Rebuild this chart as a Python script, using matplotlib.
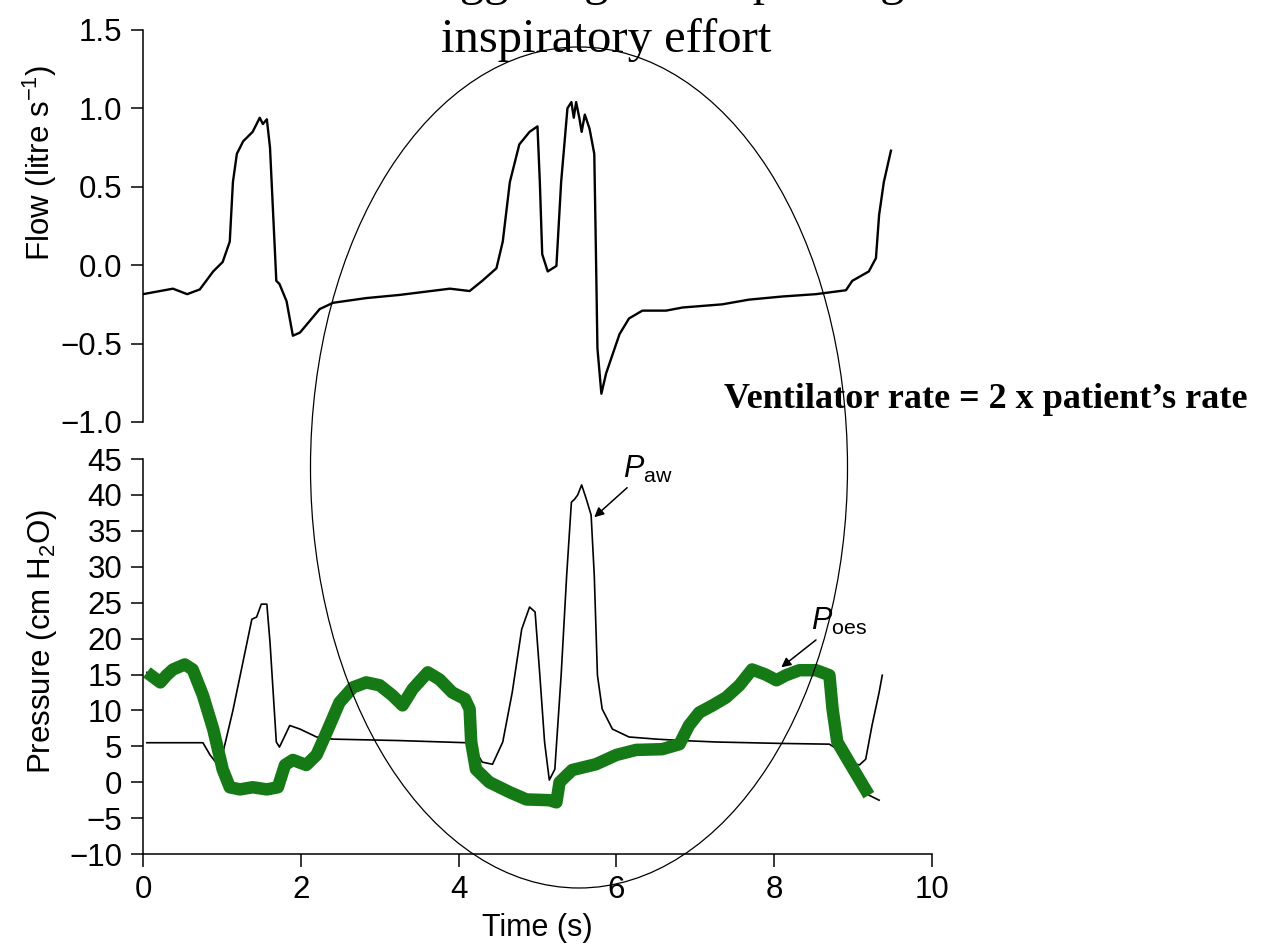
import numpy as np
import matplotlib
matplotlib.use("Agg")
import matplotlib.pyplot as plt
from matplotlib.patches import Ellipse

plt.rcParams["font.family"] = "Liberation Sans"
plt.rcParams["mathtext.fontset"] = "custom"
plt.rcParams["mathtext.rm"] = "Liberation Sans"
plt.rcParams["mathtext.it"] = "Liberation Sans:italic"

# flow trace (s, litre/s)
flow_t = [0.0, 0.38, 0.56, 0.72, 0.89, 1.01, 1.10, 1.14, 1.19, 1.27, 1.39, 1.48, 1.52, 1.57,
          1.61, 1.69, 1.73, 1.82, 1.90, 1.99, 2.24, 2.41, 2.83, 3.25, 3.89, 4.14, 4.30, 4.48,
          4.56, 4.65, 4.77, 4.90, 5.00, 5.03, 5.06, 5.13, 5.24, 5.30, 5.38, 5.43, 5.46, 5.49,
          5.53, 5.56, 5.60, 5.66, 5.72, 5.74, 5.76, 5.81, 5.87, 6.04, 6.16, 6.33, 6.63, 6.84,
          7.34, 7.68, 8.10, 8.53, 8.91, 8.99, 9.20, 9.29, 9.33, 9.39, 9.48]
flow = [-0.185, -0.15, -0.185, -0.155, -0.04, 0.02, 0.15, 0.53, 0.71, 0.79, 0.85, 0.94, 0.90, 0.93,
        0.75, -0.10, -0.12, -0.23, -0.45, -0.43, -0.28, -0.24, -0.21, -0.19, -0.15, -0.165, -0.10, -0.02,
        0.15, 0.53, 0.77, 0.85, 0.885, 0.53, 0.07, -0.04, -0.005, 0.53, 1.0, 1.04, 0.94, 1.04,
        0.94, 0.85, 0.96, 0.87, 0.71, 0.11, -0.53, -0.82, -0.69, -0.44, -0.34, -0.29, -0.29, -0.27,
        -0.25, -0.22, -0.20, -0.185, -0.16, -0.10, -0.04, 0.045, 0.32, 0.53, 0.73]

# airway pressure (cm H2O)
paw_t = [0.05, 0.76, 0.85, 0.97, 1.14, 1.38, 1.44, 1.50, 1.57, 1.61, 1.69, 1.73, 1.80, 1.86,
         1.99, 2.20, 2.41, 3.25, 4.10, 4.20, 4.30, 4.43, 4.56, 4.68, 4.80, 4.90, 4.97, 5.03,
         5.09, 5.15, 5.22, 5.30, 5.37, 5.43, 5.47, 5.51, 5.56, 5.62, 5.68, 5.72, 5.76, 5.82,
         5.95, 6.16, 6.51, 6.84, 7.27, 8.10, 8.70, 8.80, 8.95, 9.08, 9.16, 9.24, 9.33, 9.37]
paw = [5.5, 5.5, 3.8, 2.1, 10.0, 22.7, 23.0, 24.8, 24.8, 19.5, 5.6, 4.9, 6.5, 7.9,
       7.4, 6.3, 6.0, 5.8, 5.5, 4.6, 2.8, 2.5, 5.6, 12.5, 21.3, 24.4, 23.7, 14.9,
       5.6, 0.3, 1.8, 14.9, 28.8, 39.0, 39.4, 40.0, 41.4, 39.4, 37.2, 28.8, 14.9, 10.2,
       7.4, 6.3, 6.0, 5.8, 5.6, 5.4, 5.3, 4.6, 2.8, 2.4, 3.2, 7.9, 12.5, 14.9]

# oesophageal pressure (cm H2O)
poes_t = [0.05, 0.22, 0.30, 0.38, 0.53, 0.63, 0.76, 0.89, 1.01, 1.10, 1.23, 1.39, 1.57, 1.71,
          1.80, 1.90, 2.07, 2.20, 2.33, 2.49, 2.66, 2.83, 3.00, 3.16, 3.29, 3.42, 3.61, 3.76,
          3.92, 4.08, 4.14, 4.16, 4.22, 4.39, 4.65, 4.86, 5.15, 5.24, 5.28, 5.44, 5.74, 6.00,
          6.25, 6.58, 6.80, 6.92, 7.05, 7.22, 7.39, 7.56, 7.72, 7.89, 8.03, 8.15, 8.32, 8.53,
          8.70, 8.74, 8.80, 8.95, 9.20, 9.33]
poes = [15.3, 13.9, 14.9, 15.7, 16.4, 15.7, 12.1, 7.4, 1.8, -0.7, -1.0, -0.7, -1.0, -0.7,
        2.4, 3.1, 2.4, 3.8, 7.0, 11.1, 13.2, 13.9, 13.5, 12.1, 10.7, 13.0, 15.3, 14.3,
        12.5, 11.6, 10.2, 5.6, 1.8, 0.0, -1.4, -2.4, -2.5, -2.8, 0.0, 1.7, 2.5, 3.8,
        4.5, 4.6, 5.3, 7.9, 9.7, 10.7, 11.8, 13.5, 15.7, 15.0, 14.2, 14.9, 15.6, 15.6,
        14.9, 10.2, 5.6, 2.8, -1.8, -2.5]

flow_ticks = [-1.0, -0.5, 0.0, 0.5, 1.0, 1.5]
pres_ticks = list(range(-10, 50, 5))
time_ticks = [0, 2, 4, 6, 8, 10]

fig = plt.figure(figsize=(12.63, 9.44), dpi=100)
ax1 = fig.add_axes([0.1132, 0.5530, 0.6247, 0.4153])
ax2 = fig.add_axes([0.1132, 0.0953, 0.6247, 0.4184])

tick_kw = dict(direction="out", length=9, width=1.1, labelsize=22.5, pad=6)

ax1.plot(flow_t, flow, color="black", lw=1.7)
ax1.set_xlim(0, 10)
ax1.set_ylim(-1.0, 1.5)
ax1.set_yticks(flow_ticks)
ax1.set_yticklabels([f"{v:.1f}".replace("-", "\u2212") for v in flow_ticks])
ax1.set_xticks([])
for s in ["top", "right", "bottom"]:
    ax1.spines[s].set_visible(False)
ax1.spines["left"].set_linewidth(1.1)
ax1.tick_params(axis="y", **tick_kw)
ax1.set_ylabel(r"Flow (litre s$^{-1}$)", fontsize=22.5)
ax1.yaxis.set_label_coords(-0.106, 0.66)

ax2.plot(paw_t, paw, color="black", lw=1.2)
ax2.plot(poes_t, poes, color="black", lw=1.2)
ax2.plot(poes_t[:-1], poes[:-1], color="#157a15", lw=9, solid_capstyle="butt",
         solid_joinstyle="round")
ax2.set_xlim(0, 10)
ax2.set_ylim(-10, 45)
ax2.set_yticks(pres_ticks)
ax2.set_yticklabels([str(v).replace("-", "\u2212") for v in pres_ticks])
ax2.set_xticks(time_ticks)
for s in ["top", "right"]:
    ax2.spines[s].set_visible(False)
ax2.spines["left"].set_linewidth(1.1)
ax2.spines["bottom"].set_linewidth(1.1)
ax2.tick_params(**tick_kw)
ax2.set_ylabel(r"Pressure (cm H$_2$O)", fontsize=22.5)
ax2.yaxis.set_label_coords(-0.106, 0.539)
ax2.set_xlabel("Time (s)", fontsize=22, labelpad=6)

ax2.annotate(r"$\mathit{P}_{\mathrm{aw}}$", xy=(5.72, 36.9), xytext=(6.08, 41.4),
             fontsize=22, ha="left", va="bottom",
             arrowprops=dict(arrowstyle="-|>", color="black", lw=1.1,
                             mutation_scale=14, shrinkA=0, shrinkB=0))
ax2.annotate(r"$\mathit{P}_{\mathrm{oes}}$", xy=(8.09, 16.0), xytext=(8.47, 20.2),
             fontsize=22, ha="left", va="bottom",
             arrowprops=dict(arrowstyle="-|>", color="black", lw=1.1,
                             mutation_scale=14, shrinkA=0, shrinkB=0))

# title lines, the first runs off the top edge
fig.text(606 / 1263, 1 + 5 / 944, "Double triggering due to prolonged",
         family="Liberation Serif", fontsize=35, ha="center", va="baseline")
fig.text(606 / 1263, 1 - 52 / 944, "inspiratory effort",
         family="Liberation Serif", fontsize=35, ha="center", va="baseline")
fig.text(724 / 1263, 1 - 408 / 944, "Ventilator rate = 2 x patient\u2019s rate",
         family="Liberation Serif", fontweight="bold", fontsize=26,
         ha="left", va="baseline")

fig.add_artist(Ellipse((579 / 1263, 1 - 467.5 / 944), 537 / 1263, 841 / 944,
                       transform=fig.transFigure, fill=False, ec="black", lw=0.9))

fig.savefig("out.png", dpi=100)
